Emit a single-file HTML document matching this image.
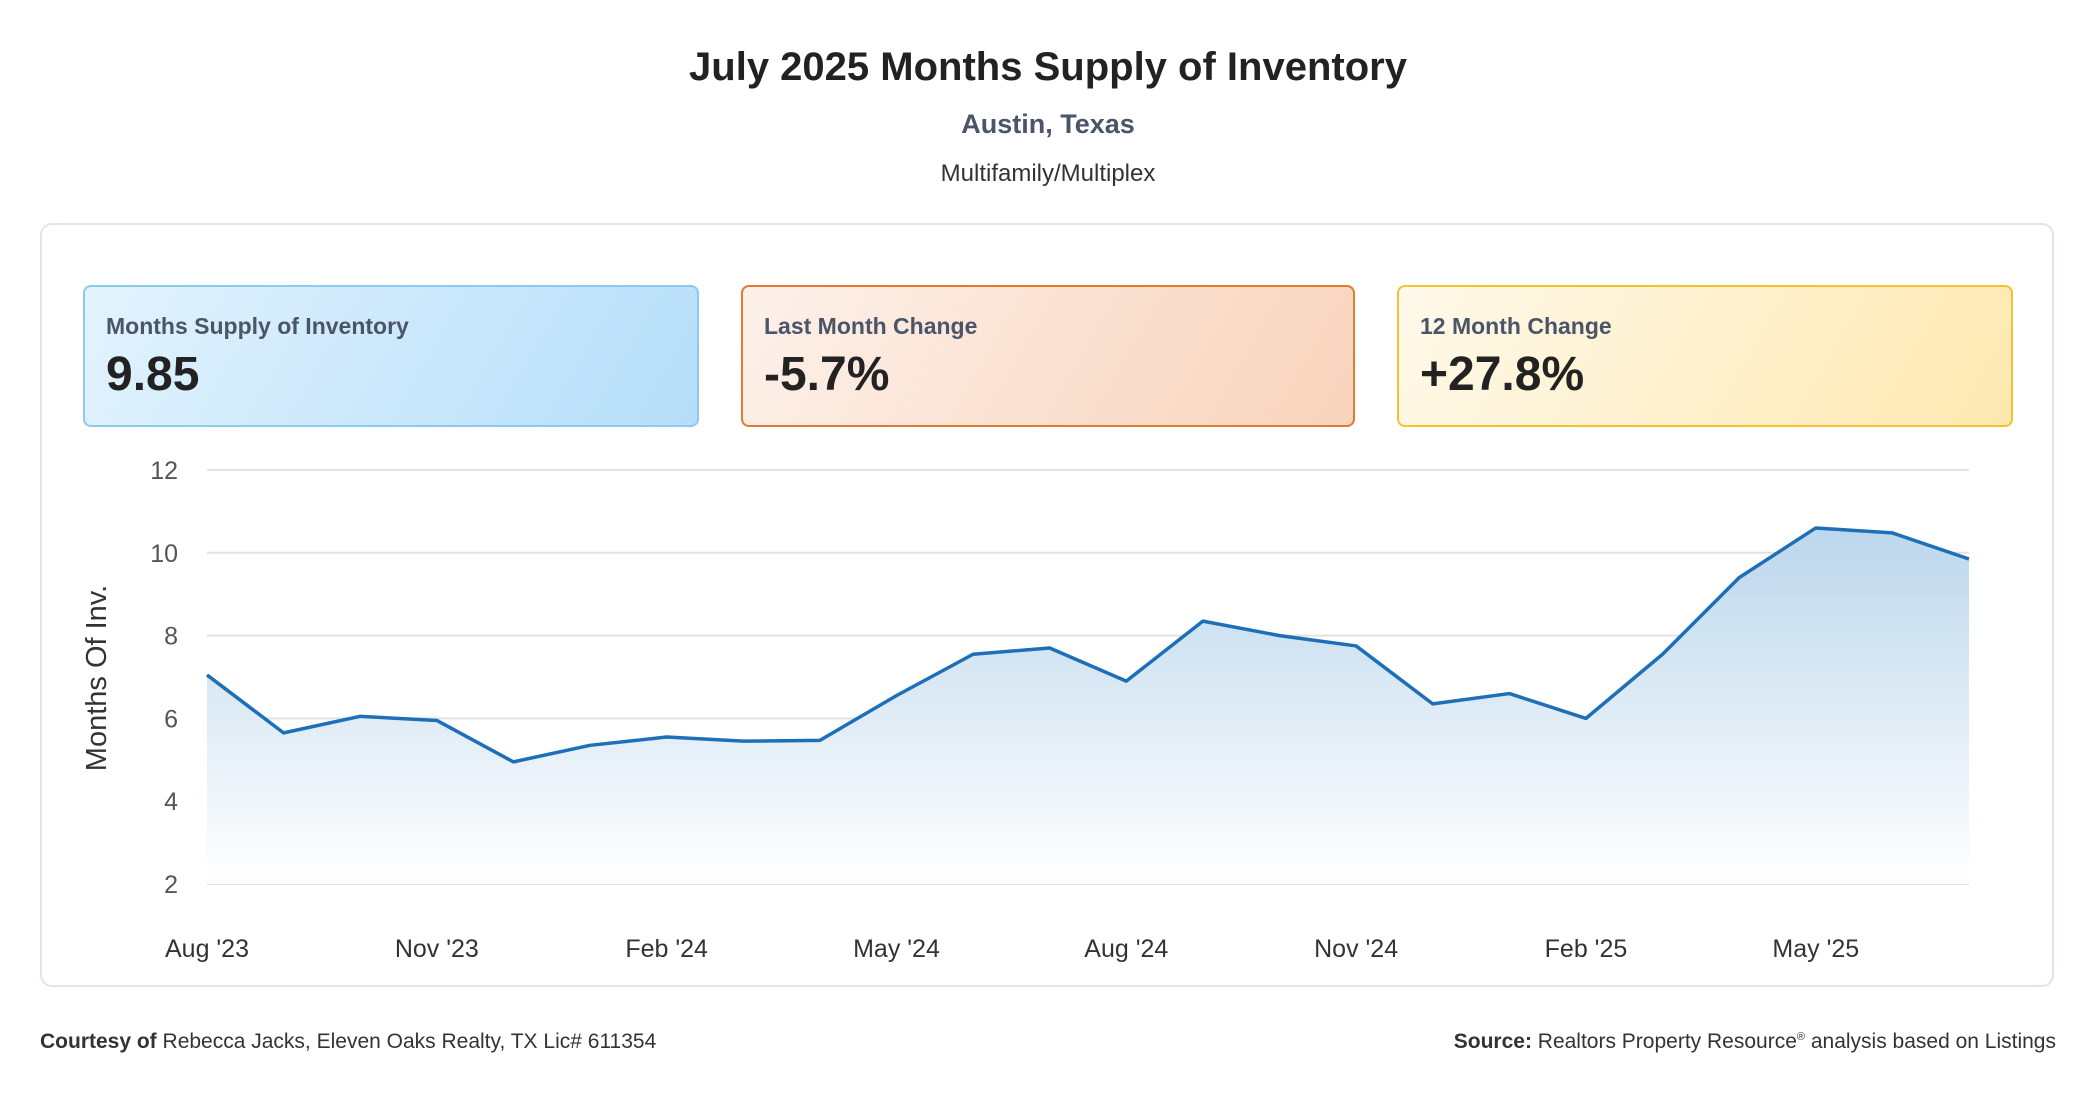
<!DOCTYPE html>
<html><head><meta charset="utf-8">
<style>
body{margin:0;width:2096px;height:1100px;background:#fff;font-family:"Liberation Sans",sans-serif;position:relative;overflow:hidden;color:#222}
.abs{position:absolute}
.kpi{position:absolute;top:285px;height:142px;border-radius:8px;box-sizing:border-box}
.kpi .lab{position:absolute;left:21px;top:26px;font-size:23px;font-weight:bold;color:#4a5568}
.kpi .val{position:absolute;left:21px;top:60px;font-size:48px;font-weight:bold;color:#222}
</style></head><body>
<div class="abs" style="left:0;width:2096px;top:45px;text-align:center;font-size:40px;font-weight:bold;color:#222">July 2025 Months Supply of Inventory</div>
<div class="abs" style="left:0;width:2096px;top:109px;text-align:center;font-size:27px;font-weight:bold;color:#4a5568">Austin, Texas</div>
<div class="abs" style="left:0;width:2096px;top:160px;text-align:center;font-size:24px;color:#333">Multifamily/Multiplex</div>
<div class="abs" style="left:40px;top:223px;width:2014px;height:764px;border:2px solid #dde6ee;border-radius:12px;box-sizing:border-box"></div>
<div class="kpi" style="left:83px;width:616px;border:2px solid #8ccaf0;background:linear-gradient(120deg,#e3f3fd,#b5defa)"><div class="lab">Months Supply of Inventory</div><div class="val">9.85</div></div>
<div class="kpi" style="left:741px;width:614px;border:2px solid #e07b30;background:linear-gradient(120deg,#fdf1ea,#f8d3bb)"><div class="lab">Last Month Change</div><div class="val">-5.7%</div></div>
<div class="kpi" style="left:1397px;width:616px;border:2px solid #f2c230;background:linear-gradient(120deg,#fff9ea,#fde8b0)"><div class="lab">12 Month Change</div><div class="val">+27.8%</div></div>
<svg class="abs" style="left:0;top:0" width="2096" height="1100" id="chart">
<defs><linearGradient id="fillg" x1="0" y1="0" x2="0" y2="1"><stop offset="0" stop-color="#bcd7ec"/><stop offset="1" stop-color="#ffffff"/></linearGradient></defs>
<text x="106" y="678" transform="rotate(-90 106 678)" text-anchor="middle" font-size="29" fill="#333" font-family="Liberation Sans, sans-serif">Months Of Inv.</text>
</svg>
<div class="abs" style="left:40px;top:1030px;font-size:21px;color:#333"><b>Courtesy of</b> Rebecca Jacks, Eleven Oaks Realty, TX Lic# 611354</div>
<div class="abs" style="right:40px;top:1030px;font-size:21px;color:#333"><b>Source:</b> Realtors Property Resource<sup style="font-size:11px">®</sup> analysis based on Listings</div>
<script>
const months=["Aug '23","Sep '23","Oct '23","Nov '23","Dec '23","Jan '24","Feb '24","Mar '24","Apr '24","May '24","Jun '24","Jul '24","Aug '24","Sep '24","Oct '24","Nov '24","Dec '24","Jan '25","Feb '25","Mar '25","Apr '25","May '25","Jun '25","Jul '25"];
const values=[7.05,5.65,6.05,5.95,4.95,5.35,5.55,5.45,5.47,6.55,7.55,7.7,6.9,8.35,8.0,7.75,6.35,6.6,6.0,7.55,9.4,10.6,10.48,9.85];
const yTicks=[2,4,6,8,10,12];
const xTickLabels=["Aug '23","Nov '23","Feb '24","May '24","Aug '24","Nov '24","Feb '25","May '25"];
const svg=document.getElementById('chart');const NS='http://www.w3.org/2000/svg';
const X0=207,X1=1969,Y0=884,Y1=470;
const xs=i=>X0+(X1-X0)*i/(months.length-1);
const ys=v=>Y0-(v-2)/(12-2)*(Y0-Y1);
function mk(t,a){const e=document.createElementNS(NS,t);for(const k in a)e.setAttribute(k,a[k]);svg.appendChild(e);return e;}
yTicks.forEach(t=>{
 const g=mk('line',{x1:X0,x2:X1,y1:ys(t),y2:ys(t),stroke:'#e2e2e2','stroke-width':2});
 
 
 const l=mk('text',{x:178,y:ys(t)+9,'text-anchor':'end','font-size':25,fill:'#555','font-family':'Liberation Sans, sans-serif'});l.textContent=t;
 
 
});
xTickLabels.forEach(lbl=>{
 const i=months.indexOf(lbl);
 const l=mk('text',{x:xs(i),y:957,'text-anchor':'middle','font-size':25,fill:'#333','font-family':'Liberation Sans, sans-serif'});l.textContent=lbl;
 
 
});
let d=values.map((v,i)=>(i?'L':'M')+xs(i)+' '+ys(v)).join(' ');
const a=mk('path',{d:d+` L${xs(values.length-1)} ${Y0} L${X0} ${Y0} Z`,fill:'url(#fillg)'});


const p=mk('path',{d:d,fill:'none',stroke:'#1f6fb8','stroke-width':3.5,'stroke-linejoin':'round'});


</script>
</body></html>
